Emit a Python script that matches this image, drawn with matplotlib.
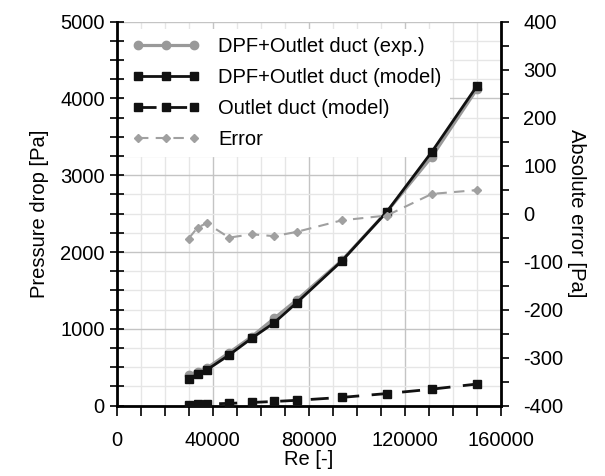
import matplotlib
matplotlib.use("Agg")
from matplotlib import pyplot as plt
from matplotlib.ticker import MultipleLocator

plt.rcParams['font.family'] = ['Liberation Sans', 'DejaVu Sans']
plt.rcParams['font.size'] = 14.5
plt.rcParams['axes.unicode_minus'] = False

re_vals = [30000, 33750, 37500, 46875, 56250, 65625, 75000, 93750, 112500, 131250, 150000]
dp_exp = [400, 442, 487, 690, 898, 1137, 1375, 1890, 2524, 3240, 4120]
dp_model = [343, 412, 464, 660, 877, 1080, 1340, 1883, 2524, 3305, 4160]
dp_outlet = [15, 18, 22, 30, 42, 55, 70, 108, 158, 215, 282]
error = [-52, -29, -20, -50, -43, -47, -38, -14, -4, 41, 49]

fig = plt.figure(figsize=(6.05, 4.76), dpi=100)
ax = fig.add_axes([0.1926, 0.1477, 0.6354, 0.8071])
ax2 = ax.twinx()

grey = '#999999'
l1, = ax.plot(re_vals, dp_exp, color=grey, lw=2.3, marker='o', ms=6, label='DPF+Outlet duct (exp.)', zorder=3)
l2, = ax.plot(re_vals, dp_model, color='#111111', lw=2, marker='s', ms=6,
              label='DPF+Outlet duct (model)', zorder=3)
l3, = ax.plot(re_vals, dp_outlet, color='#111111', lw=2, ls=(0, (6.5, 4.5)), marker='s', ms=6,
              label='Outlet duct (model)', zorder=3)
l4, = ax2.plot(re_vals, error, color='#a0a0a0', lw=1.5, ls=(0, (5, 3.5)), marker='D', ms=4,
               label='Error')

ax.set_xlim(0, 160000)
ax.set_ylim(0, 5000)
ax2.set_ylim(-400, 400)

ax.xaxis.set_major_locator(MultipleLocator(40000))
ax.xaxis.set_minor_locator(MultipleLocator(10000))
ax.yaxis.set_major_locator(MultipleLocator(1000))
ax.yaxis.set_minor_locator(MultipleLocator(250))
ax2.yaxis.set_major_locator(MultipleLocator(100))
ax2.yaxis.set_minor_locator(MultipleLocator(50))

ax.grid(which='major', color='#c4c4c4', lw=1)
ax.grid(which='minor', color='#e6e6e6', lw=1)
ax.set_axisbelow(True)

for a in (ax, ax2):
    for s in a.spines.values():
        s.set_visible(False)
ax.spines['left'].set_visible(True)
ax.spines['bottom'].set_visible(True)
ax2.spines['right'].set_visible(True)
ax.spines['left'].set_linewidth(2)
ax.spines['bottom'].set_linewidth(2)
ax2.spines['right'].set_linewidth(2)

ax.tick_params(axis='y', which='both', direction='inout', length=10, width=1.2)
ax.tick_params(axis='x', which='both', direction='out', length=7, width=1.2, pad=11)
ax2.tick_params(axis='y', which='both', direction='out', length=6, width=1.2, pad=10)

ax.set_xlabel('Re [-]', labelpad=0)
ax.set_ylabel('Pressure drop [Pa]', labelpad=8)
ax2.set_ylabel('Absolute error [Pa]', rotation=270, labelpad=16)

leg = ax.legend(handles=[l1, l2, l3, l4], loc='upper left', numpoints=3, handlelength=3.4,
                handletextpad=0.9, labelspacing=0.6, borderaxespad=0.35, frameon=True,
                fancybox=False, fontsize=14.5)
leg.get_frame().set_edgecolor('none')
leg.get_frame().set_facecolor('white')
leg.get_frame().set_alpha(1)
leg.set_zorder(2)

fig.savefig('out.png', dpi=100)
